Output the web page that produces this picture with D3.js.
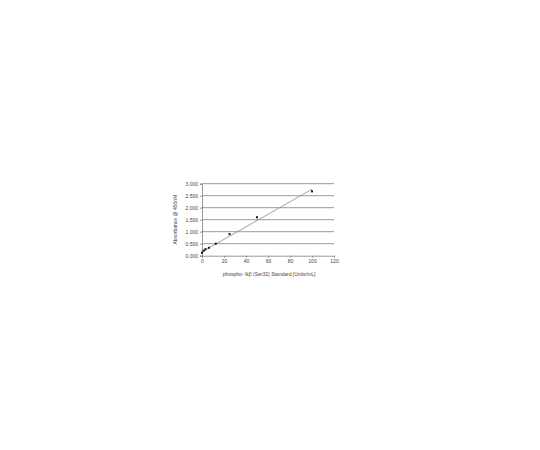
<!DOCTYPE html>
<html><head><meta charset="utf-8">
<script src="https://cdn.jsdelivr.net/npm/d3@7"></script>
<style>body{margin:0;background:#fff;} svg{display:block;}</style>
</head><body>
<script>
const concentrations = [0, 1.5625, 3.125, 6.25, 12.5, 25, 50, 100];
const absorbance = [0.125, 0.21, 0.27, 0.33, 0.50, 0.90, 1.60, 2.68];
const trendX = [0, 100];
const trendY = [0.16, 2.77];
const xTicks = [0, 20, 40, 60, 80, 100, 120];
const yTicks = [0, 0.5, 1.0, 1.5, 2.0, 2.5, 3.0];
const xTitle = "phospho- Ikβ (Ser32) Standard [Units/mL]";
const yTitle = "Absorbance @ 450nM";

const W = 540, H = 450;
const svg = d3.select("body").append("svg").attr("width", W).attr("height", H);
const x = d3.scaleLinear().domain([0, 120]).range([202, 334]);
const y = d3.scaleLinear().domain([0, 3]).range([255.7, 183.7]);
const font = "Arial, 'Liberation Sans', sans-serif";

// gridlines
svg.append("g").selectAll("line").data(yTicks.filter(d => d > 0)).join("line")
  .attr("x1", x(0)).attr("x2", x(120))
  .attr("y1", d => y(d)).attr("y2", d => y(d))
  .attr("stroke", "#7f7f7f").attr("stroke-width", 0.8);

// axes
const xAxis = svg.append("g").attr("transform", `translate(0,${y(0)})`)
  .call(d3.axisBottom(x).tickValues(xTicks).tickSize(2).tickPadding(2).tickFormat(d3.format("d")));
const yAxis = svg.append("g").attr("transform", `translate(${x(0)},0)`)
  .call(d3.axisLeft(y).tickValues(yTicks).tickSize(2).tickPadding(2).tickFormat(d3.format(".3f")));
[xAxis, yAxis].forEach(g => {
  g.select(".domain").attr("stroke", "#7f7f7f").attr("stroke-width", 0.8);
  g.selectAll(".tick line").attr("stroke", "#7f7f7f").attr("stroke-width", 0.8);
  g.selectAll("text").attr("font-family", font).attr("font-size", 5).attr("fill", "#444");
});

// trendline
svg.append("line")
  .attr("x1", x(trendX[0])).attr("y1", y(trendY[0]))
  .attr("x2", x(trendX[1])).attr("y2", y(trendY[1]))
  .attr("stroke", "#888").attr("stroke-width", 0.8);

// points
svg.append("g").selectAll("rect").data(concentrations).join("rect")
  .attr("x", (d) => x(d) - 1)
  .attr("y", (d, i) => y(absorbance[i]) - 1)
  .attr("width", 2).attr("height", 2)
  .attr("fill", "#111");

// titles
svg.append("text").attr("x", 269).attr("y", 276)
  .attr("text-anchor", "middle").attr("font-family", font).attr("font-size", 5)
  .attr("fill", "#444").text(xTitle);
svg.append("text").attr("transform", `translate(177,${(y(0)+y(3))/2}) rotate(-90)`)
  .attr("text-anchor", "middle").attr("font-family", font).attr("font-size", 5)
  .attr("fill", "#444").text(yTitle);
</script>
</body></html>
